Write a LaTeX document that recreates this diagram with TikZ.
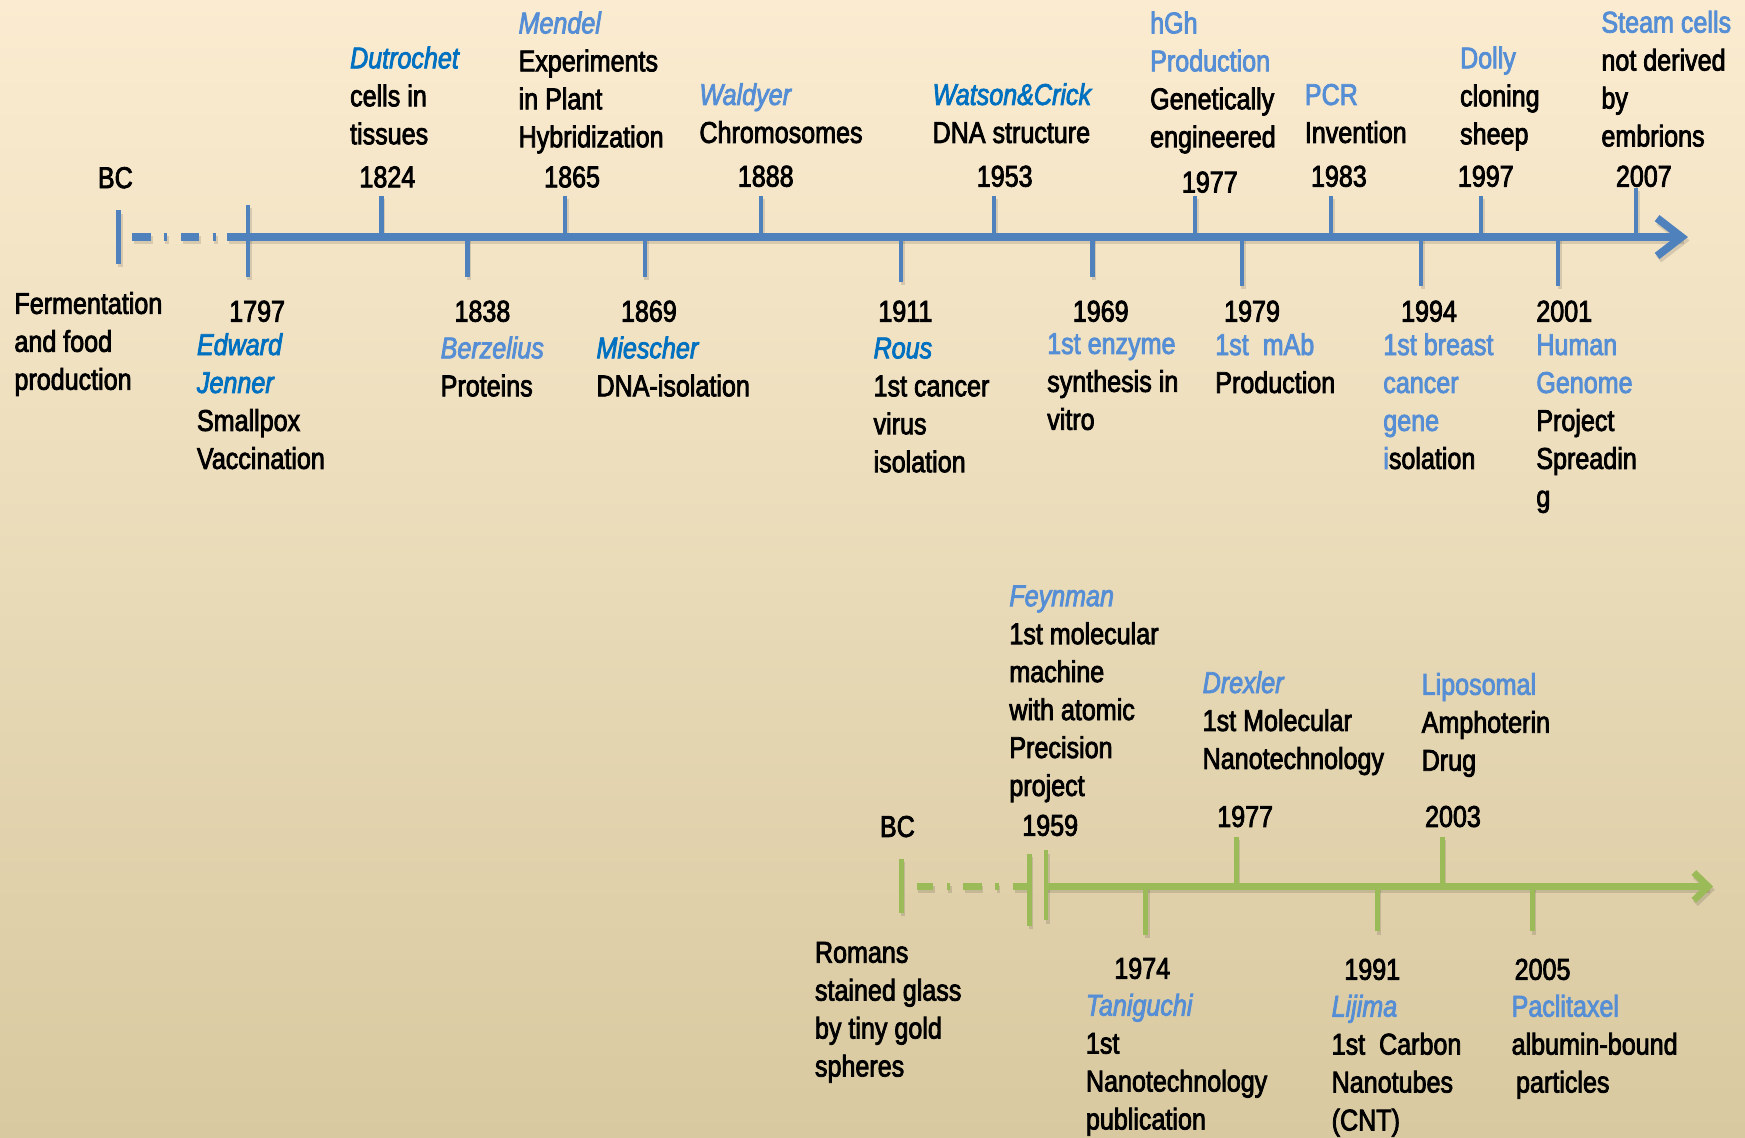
\documentclass[tikz,border=0pt]{standalone}
\usepackage{fontspec}
\setmainfont{Liberation Sans}[FakeStretch=0.835,FakeBold=2.6]
\usepackage{xcolor}
\definecolor{axblue}{RGB}{79,129,189}
\definecolor{bb}{RGB}{0,112,192}
\definecolor{lb}{RGB}{85,142,213}
\definecolor{axgreen}{RGB}{155,187,89}
\definecolor{bgtop}{RGB}{251,236,209}
\definecolor{bgmid}{RGB}{243,236,213}
\definecolor{bgbot}{RGB}{216,201,160}
\newcommand{\nB}[1]{\textcolor{bb}{\itshape #1}}
\newcommand{\nL}[1]{\textcolor{lb}{\itshape #1}}
\newcommand{\hL}[1]{\textcolor{lb}{#1}}
\newcommand{\blk}[1]{\begin{tabular}[t]{@{}l@{}}#1\end{tabular}}
\newcommand{\topaxisdraw}{%
  \coordinate (A0) at (204,213); \coordinate (A1) at (1512,213);
  \draw[axB] (A0) -- (A1);
  \coordinate (H1) at (1489,196); \coordinate (H2) at (1511,213); \coordinate (H3) at (1489,230);
  \draw[axB,line join=miter] (H1) -- (H2) -- (H3);
  \foreach \n/\xa/\xb in {d1/118.6/135.8, d2/147/150.5, d3/163/179, d4/191/194.5}{
    \coordinate (D\n a) at (\xa,213); \coordinate (D\n b) at (\xb,213);
    \draw[axB] (D\n a) -- (D\n b);}
  \foreach \n/\x/\ya/\yb in {bc/106.6/189/237, a1797/222.8/184/249, a1824/342.8/176/213,
     a1838/420/213/249, a1865/507.8/176/213, a1869/579.4/213/249, a1888/684/176/213,
     a1911/809.7/213/253, a1953/893/176/213, a1969/981.6/213/249, a1977/1074/176/213,
     a1979/1116/213/257, a1983/1196/176/213, a1994/1277/213/257, a1997/1331/176/213,
     a2001/1400/213/257, a2007/1470/169/213}{
    \coordinate (T\n a) at (\x,\ya); \coordinate (T\n b) at (\x,\yb);
    \draw[tkB] (T\n a) -- (T\n b);}
}
\newcommand{\botaxisdraw}{%
  \coordinate (B0) at (940,796.5); \coordinate (B1) at (1535,796.5);
  \draw[axG] (B0) -- (B1);
  \coordinate (G1) at (1522,784); \coordinate (G2) at (1535,796.5); \coordinate (G3) at (1522,809);
  \draw[axG,line join=miter] (G1) -- (G2) -- (G3);
  \foreach \n/\xa/\xb in {e1/823.7/838.6, e2/850.5/854, e3/865.6/882, e4/894/897.5, e5/910.5/925}{
    \coordinate (E\n a) at (\xa,796.5); \coordinate (E\n b) at (\xb,796.5);
    \draw[axG] (E\n a) -- (E\n b);}
  \foreach \n/\x/\ya/\yb in {bc/810/772/820, bar1/925/767/832, bar2/940/764/827,
     b1974/1029.4/797/840, b1977/1111/752/797, b1991/1237.6/797/837,
     b2003/1296/752/797, b2005/1377/797/837}{
    \coordinate (S\n a) at (\x,\ya); \coordinate (S\n b) at (\x,\yb);
    \draw[tkG] (S\n a) -- (S\n b);}
}
\begin{document}
\begin{tikzpicture}[x=1pt,y=-1pt,
  lbl/.style={anchor=base west,inner sep=0pt,outer sep=0pt,text=black,
    font=\fontsize{27}{34.1}\selectfont},
  axB/.style={draw=axblue,line width=7pt},
  tkB/.style={draw=axblue,line width=4pt},
  axG/.style={draw=axgreen,line width=6pt},
  tkG/.style={draw=axgreen,line width=4pt}]
\useasboundingbox (0,0) rectangle (1568,1022);
\shade[top color=bgtop,middle color=bgmid,bottom color=bgbot] (0,0) rectangle (1568,1022);

% shadows
\begin{scope}[shift={(1.5,3)},
  axB/.style={draw=black,opacity=0.12,line width=7pt},
  tkB/.style={draw=black,opacity=0.12,line width=4pt},
  axG/.style={draw=black,opacity=0.12,line width=6pt},
  tkG/.style={draw=black,opacity=0.12,line width=4pt}]
\topaxisdraw
\botaxisdraw
\end{scope}
\topaxisdraw
\botaxisdraw

% ---------- top timeline labels ----------
\node[lbl] (bcA) at (88,169) {BC};
\node[lbl] (dut) at (314.6,61.4) {\blk{\nB{Dutrochet}\\cells in\\tissues}};
\node[lbl] (y1824) at (323,168.3) {1824};
\node[lbl] (men) at (466,30) {\blk{\nL{Mendel}\\Experiments\\in Plant\\Hybridization}};
\node[lbl] (y1865) at (489,168.3) {1865};
\node[lbl] (wal) at (628.5,94.3) {\blk{\nL{Waldyer}\\Chromosomes}};
\node[lbl] (y1888) at (663,167.7) {1888};
\node[lbl] (wat) at (838,94.3) {\blk{\nB{Watson\&Crick}\\DNA structure}};
\node[lbl] (y1953) at (877.7,167.7) {1953};
\node[lbl] (hgh) at (1033.5,30) {\blk{\hL{hGh}\\\hL{Production}\\Genetically\\engineered}};
\node[lbl] (y1977) at (1062,173) {1977};
\node[lbl] (pcr) at (1172.5,94.3) {\blk{\hL{PCR}\\Invention}};
\node[lbl] (y1983) at (1178,167.7) {1983};
\node[lbl] (dol) at (1312,61.4) {\blk{\hL{Dolly}\\cloning\\sheep}};
\node[lbl] (y1997) at (1310,167.7) {1997};
\node[lbl] (ste) at (1439,29.3) {\blk{\hL{Steam cells}\\not derived\\by\\embrions}};
\node[lbl] (y2007) at (1452,167.7) {2007};

\node[lbl] (fer) at (13,282) {\blk{Fermentation\\and food\\production}};
\node[lbl] (y1797) at (206,289) {1797};
\node[lbl] (edw) at (177,319) {\blk{\nB{Edward}\\\nB{Jenner}\\Smallpox\\Vaccination}};
\node[lbl] (y1838) at (408.4,289) {1838};
\node[lbl] (ber) at (396,322) {\blk{\nL{Berzelius}\\Proteins}};
\node[lbl] (y1869) at (558,289) {1869};
\node[lbl] (mie) at (536,322) {\blk{\nB{Miescher}\\DNA-isolation}};
\node[lbl] (y1911) at (789.3,289) {1911};
\node[lbl] (rou) at (785,322) {\blk{\nB{Rous}\\1st cancer\\virus\\isolation}};
\node[lbl] (y1969) at (964,289) {1969};
\node[lbl] (enz) at (941,318) {\blk{\hL{1st enzyme}\\synthesis in\\vitro}};
\node[lbl] (y1979) at (1100,289) {1979};
\node[lbl] (mab) at (1092,319) {\blk{\hL{1st\ \ mAb}\\Production}};
\node[lbl] (y1994) at (1259,289) {1994};
\node[lbl] (bre) at (1243,319) {\blk{\hL{1st breast}\\\hL{cancer}\\\hL{gene}\\\hL{i}solation}};
\node[lbl] (y2001) at (1380.5,289) {2001};
\node[lbl] (hum) at (1380.5,319) {\blk{\hL{Human}\\\hL{Genome}\\Project\\Spreadin\\g}};

% ---------- bottom timeline labels ----------
\node[lbl] (bcB) at (790.7,752) {BC};
\node[lbl] (fey) at (907,544.7) {\blk{\nL{Feynman}\\1st molecular\\machine\\with atomic\\Precision\\project}};
\node[lbl] (y1959) at (918.6,751) {1959};
\node[lbl] (dre) at (1080.7,622.7) {\blk{\nL{Drexler}\\1st Molecular\\Nanotechnology}};
\node[lbl] (z1977) at (1093.8,743) {1977};
\node[lbl] (lip) at (1277.5,624.3) {\blk{\hL{Liposomal}\\Amphoterin\\Drug}};
\node[lbl] (z2003) at (1280.5,743) {2003};
\node[lbl] (rom) at (732.3,865) {\blk{Romans\\stained glass\\by tiny gold\\spheres}};
\node[lbl] (z1974) at (1001.3,879.5) {1974};
\node[lbl] (tan) at (975.8,912.6) {\blk{\nL{Taniguchi}\\1st\\Nanotechnology\\publication}};
\node[lbl] (z1991) at (1208,880.4) {1991};
\node[lbl] (lij) at (1196.6,913.5) {\blk{\nL{Lijima}\\1st\ \ Carbon\\Nanotubes\\(CNT)}};
\node[lbl] (z2005) at (1361,880.4) {2005};
\node[lbl] (pac) at (1358.3,913.5) {\blk{\hL{Paclitaxel}\\albumin-bound\\\hspace{4pt}particles}};
\end{tikzpicture}
\end{document}
